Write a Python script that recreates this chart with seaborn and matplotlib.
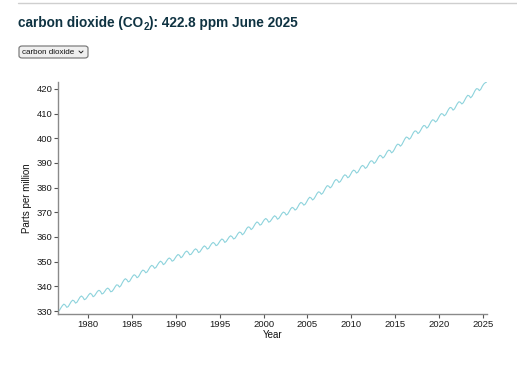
import matplotlib
matplotlib.use("Agg")
import matplotlib.pyplot as plt
from matplotlib.patches import FancyBboxPatch
from matplotlib.lines import Line2D
import numpy as np
import pandas as pd
import seaborn as sns

# ---- data (bi-monthly readings, Aug 1976 .. Jun 2025) ----
start_year = 1976
start_month = 8
ppm = [
    330.0, 330.3, 331.3,                                  # 1976 (Aug, Oct, Dec)
    332.2, 332.8, 332.4, 331.5, 331.8, 332.8,             # 1977
    333.8, 334.4, 334.1, 333.2, 333.6, 334.6,             # 1978
    335.6, 336.1, 335.6, 334.6, 334.9, 335.7,             # 1979
    336.6, 337.2, 336.8, 335.8, 336.2, 337.1,             # 1980
    338.0, 338.4, 338.0, 336.9, 337.2, 338.0,             # 1981
    338.9, 339.3, 338.8, 337.8, 338.0, 338.8,             # 1982
    339.8, 340.6, 340.5, 339.7, 340.3, 341.5,             # 1983
    342.5, 343.1, 342.7, 341.8, 342.1, 343.1,             # 1984
    344.1, 344.7, 344.4, 343.5, 343.9, 344.9,             # 1985
    346.0, 346.6, 346.3, 345.5, 345.9, 346.9,             # 1986
    347.9, 348.5, 348.2, 347.3, 347.7, 348.7,             # 1987
    349.6, 350.2, 349.8, 348.8, 349.2, 350.1,             # 1988
    351.0, 351.5, 351.1, 350.2, 350.5, 351.4,             # 1989
    352.3, 352.9, 352.6, 351.6, 352.0, 353.0,             # 1990
    353.9, 354.3, 353.8, 352.8, 353.0, 353.8,             # 1991
    354.7, 355.2, 354.8, 353.7, 354.0, 354.9,             # 1992
    355.8, 356.4, 356.0, 355.1, 355.4, 356.4,             # 1993
    357.3, 357.8, 357.4, 356.5, 356.8, 357.7,             # 1994
    358.6, 359.2, 358.8, 357.8, 358.2, 359.1,             # 1995
    360.0, 360.5, 360.1, 359.2, 359.5, 360.4,             # 1996
    361.4, 362.0, 361.8, 360.9, 361.4, 362.4,             # 1997
    363.5, 364.1, 363.9, 363.0, 363.5, 364.5,             # 1998
    365.5, 366.1, 365.7, 364.8, 365.1, 366.1,             # 1999
    367.0, 367.5, 367.0, 366.0, 366.3, 367.1,             # 2000
    368.0, 368.6, 368.2, 367.2, 367.6, 368.5,             # 2001
    369.5, 370.1, 369.8, 368.9, 369.3, 370.3,             # 2002
    371.4, 372.0, 371.7, 370.9, 371.3, 372.3,             # 2003
    373.4, 374.0, 373.7, 372.9, 373.3, 374.3,             # 2004
    375.4, 376.1, 375.8, 375.0, 375.5, 376.5,             # 2005
    377.6, 378.3, 378.1, 377.3, 377.8, 378.9,             # 2006
    380.0, 380.8, 380.6, 379.9, 380.4, 381.6,             # 2007
    382.7, 383.3, 383.0, 382.1, 382.5, 383.5,             # 2008
    384.6, 385.2, 384.9, 384.0, 384.4, 385.4,             # 2009
    386.5, 387.1, 386.8, 385.9, 386.3, 387.3,             # 2010
    388.4, 389.0, 388.7, 387.8, 388.2, 389.2,             # 2011
    390.3, 390.9, 390.7, 389.8, 390.3, 391.3,             # 2012
    392.4, 393.1, 392.8, 392.0, 392.5, 393.5,             # 2013
    394.6, 395.2, 395.0, 394.1, 394.6, 395.6,             # 2014
    396.8, 397.6, 397.5, 396.8, 397.4, 398.6,             # 2015
    399.7, 400.5, 400.3, 399.6, 400.1, 401.3,             # 2016
    402.4, 403.0, 402.8, 401.9, 402.4, 403.4,             # 2017
    404.5, 405.2, 405.0, 404.1, 404.6, 405.7,             # 2018
    406.8, 407.5, 407.3, 406.6, 407.1, 408.2,             # 2019
    409.3, 410.0, 409.8, 409.1, 409.6, 410.7,             # 2020
    411.8, 412.5, 412.3, 411.4, 411.9, 413.0,             # 2021
    414.1, 414.8, 414.6, 413.9, 414.4, 415.5,             # 2022
    416.6, 417.4, 417.2, 416.4, 417.0, 418.1,             # 2023
    419.3, 420.1, 420.0, 419.3, 419.9, 421.1,             # 2024
    422.0, 422.5, 422.8,                                  # 2025 (Feb, Apr, Jun)
]
x_ticks = [1980, 1985, 1990, 1995, 2000, 2005, 2010, 2015, 2020, 2025]
y_ticks = [330, 340, 350, 360, 370, 380, 390, 400, 410, 420]
title_main = "carbon dioxide (CO"
title_sub = "2"
title_rest = "): 422.8 ppm June 2025"
dropdown_label = "carbon dioxide"
x_label = "Year"
y_label = "Parts per million"

# decimal-year positions of the bi-monthly readings
months_elapsed = np.arange(len(ppm)) * 2 + (start_month - 1)
year_dec = start_year + months_elapsed / 12.0
df = pd.DataFrame({"year": year_dec, "ppm": ppm})

sns.set_theme(style="white")
plt.rcParams["font.family"] = ["Liberation Sans", "DejaVu Sans"]

W, H = 517, 365
fig = plt.figure(figsize=(W / 100, H / 100), dpi=100)
fig.patch.set_facecolor("white")
ax = fig.add_axes([58 / W, 1 - 314 / H, (487 - 58) / W, (314 - 82) / H])

sns.lineplot(data=df, x="year", y="ppm", ax=ax, color="#8dd3dc", linewidth=0.8)

ax.set_xlim(year_dec[0], 2025.45)
ax.set_ylim(328.8, 422.8)
ax.set_xticks(x_ticks)
ax.set_yticks(y_ticks)
ax.set_xticklabels([str(v) for v in x_ticks])
ax.set_yticklabels([str(v) for v in y_ticks])
for s in ["top", "right"]:
    ax.spines[s].set_visible(False)
for s in ["left", "bottom"]:
    ax.spines[s].set_color("#8a8a8a")
    ax.spines[s].set_linewidth(1.0)
ax.tick_params(axis="both", which="both", direction="out", length=3, width=0.8,
               color="#555555", labelsize=6.8, labelcolor="#1a1a1a", pad=1.0,
               bottom=True, left=True)
ax.set_xlabel(x_label, fontsize=7, color="#111111", labelpad=1)
ax.set_ylabel(y_label, fontsize=7, color="#111111", labelpad=3)
ax.grid(False)

# top separator line
fig.add_artist(Line2D([18 / W, 1.0], [1 - 2.5 / H, 1 - 2.5 / H],
                      color="#cfcfcf", linewidth=1.0))

# title with subscript
fig.canvas.draw()
renderer = fig.canvas.get_renderer()
tcolor = "#0f3342"
ty = 1 - 27 / H
t1 = fig.text(18 / W, ty, title_main, fontsize=9.8, fontweight="bold",
              color=tcolor, ha="left", va="baseline")
bb = t1.get_window_extent(renderer)
t2 = fig.text(bb.x1 / W, ty - 3 / H, title_sub, fontsize=7, fontweight="bold",
              color=tcolor, ha="left", va="baseline")
bb2 = t2.get_window_extent(renderer)
fig.text(bb2.x1 / W, ty, title_rest, fontsize=9.8, fontweight="bold",
         color=tcolor, ha="left", va="baseline")

# dropdown control
box = FancyBboxPatch((19 / W, 1 - 58 / H), 69 / W, 12 / H,
                     boxstyle="round,pad=0,rounding_size=0.006",
                     transform=fig.transFigure, facecolor="#efefef",
                     edgecolor="#6f6f6f", linewidth=0.8)
fig.add_artist(box)
fig.text(22 / W, 1 - 52 / H, dropdown_label, fontsize=5.8, color="#111111",
         ha="left", va="center")
fig.add_artist(Line2D([79 / W, 81 / W, 83 / W],
                      [1 - 51 / H, 1 - 53 / H, 1 - 51 / H],
                      color="#222222", linewidth=0.7))

fig.savefig("out.png", dpi=100, facecolor="white")
